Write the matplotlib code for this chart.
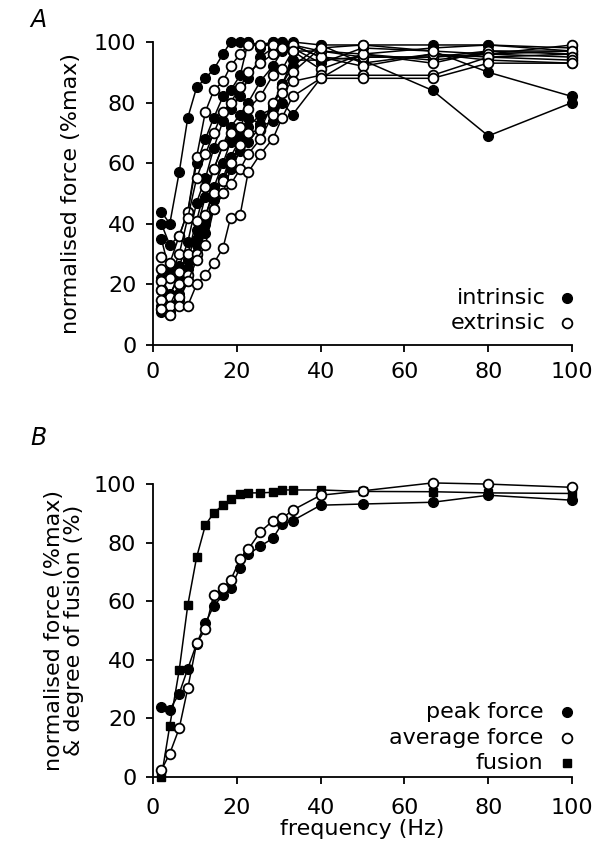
import matplotlib
matplotlib.use("Agg")
import matplotlib.pyplot as plt

# stimulation frequencies (Hz)
freq = [2, 4, 6.25, 8.3, 10.4, 12.5, 14.5, 16.7, 18.5, 20.8,
        22.7, 25.6, 28.6, 30.8, 33.3, 40, 50, 66.7, 80, 100]

# panel A: individual muscles, normalised force (%max)
intrinsic = [
    [44, 40, 57, 75, 85, 88, 91, 96, 100, 100, 100, 98, 100, 99, 100, 99, 99, 99, 99, 98],
    [40, 33, 36, 44, 60, 68, 75, 82, 84, 89, 100, 99, 100, 100, 99, 97, 96, 94, 96, 97],
    [35, 24, 26, 34, 47, 55, 65, 74, 78, 82, 88, 95, 98, 100, 98, 93, 98, 97, 90, 82],
    [22, 17, 22, 28, 38, 49, 58, 66, 72, 76, 80, 87, 92, 97, 99, 95, 94, 84, 69, 80],
    [18, 14, 20, 23, 35, 40, 48, 55, 62, 68, 72, 76, 78, 86, 92, 99, 93, 96, 94, 93],
    [13, 11, 15, 21, 30, 37, 45, 50, 58, 64, 67, 72, 74, 80, 76, 88, 96, 98, 99, 97],
    [11, 10, 17, 25, 33, 42, 52, 60, 67, 70, 75, 73, 79, 86, 94, 94, 95, 95, 97, 96],
]
extrinsic = [
    [29, 27, 36, 44, 62, 77, 84, 87, 92, 96, 99, 99, 99, 98, 97, 97, 95, 95, 96, 99],
    [25, 22, 30, 42, 55, 63, 70, 77, 80, 85, 90, 93, 96, 98, 99, 95, 92, 96, 95, 96],
    [21, 16, 24, 30, 41, 52, 58, 66, 70, 72, 78, 82, 89, 91, 97, 91, 96, 93, 97, 97],
    [18, 13, 20, 23, 30, 43, 50, 54, 60, 66, 70, 71, 80, 85, 90, 98, 99, 97, 96, 95],
    [15, 13, 16, 21, 28, 33, 45, 50, 53, 58, 63, 68, 76, 83, 87, 89, 89, 89, 95, 94],
    [12, 10, 13, 13, 20, 23, 27, 32, 42, 43, 57, 63, 68, 75, 82, 88, 88, 88, 93, 93],
]

# panel B: means
peak = [24, 23, 28.5, 37, 45.5, 52.5, 58.5, 62, 64.5, 71.5,
        76, 78.8, 81.5, 86.5, 87.5, 92.8, 93.2, 93.8, 96.2, 94.5]
average = [2.4, 8, 16.6, 30.3, 45.6, 50.5, 62.3, 64.4, 67.2, 74.3,
           77.7, 83.7, 87.5, 88.3, 91.1, 96.2, 97.7, 100.4, 100, 98.9]
fusion = [0, 17.5, 36.5, 58.7, 75, 86, 90.2, 92.8, 94.8, 96.6,
          97, 97, 97.2, 98, 98, 98, 97.5, 97.4, 97, 96.8]

ticks = [0, 20, 40, 60, 80, 100]

plt.rcParams['font.family'] = ['DejaVu Sans']
fig = plt.figure(figsize=(5.97, 8.49), dpi=100)
axA = fig.add_axes([0.2563, 0.5936, 0.702, 0.357])
axB = fig.add_axes([0.2563, 0.0848, 0.702, 0.345])

ms = 7
lw = 1.1
fs = 16


def style(ax):
    ax.set_xlim(0, 100)
    ax.set_ylim(0, 100)
    ax.set_xticks(ticks)
    ax.set_yticks(ticks)
    for s in ['top', 'right']:
        ax.spines[s].set_visible(False)
    for s in ['left', 'bottom']:
        ax.spines[s].set_linewidth(1.3)
    ax.tick_params(direction='out', length=5, width=1.3, labelsize=fs, pad=7)


for ys in intrinsic:
    axA.plot(freq, ys, '-o', color='black', lw=lw, ms=ms, mfc='black',
             mec='black', clip_on=False, zorder=3)
for ys in extrinsic:
    axA.plot(freq, ys, '-o', color='black', lw=lw, ms=ms, mfc='white',
             mec='black', mew=1.3, clip_on=False, zorder=3)
style(axA)
axA.set_ylabel('normalised force (%max)', fontsize=fs, labelpad=9)

# legend A
axA.text(0.936, 0.155, 'intrinsic', transform=axA.transAxes, ha='right', va='center', fontsize=fs)
axA.text(0.936, 0.073, 'extrinsic', transform=axA.transAxes, ha='right', va='center', fontsize=fs)
axA.plot([0.988], [0.155], 'o', transform=axA.transAxes, ms=ms, color='black', clip_on=False)
axA.plot([0.988], [0.073], 'o', transform=axA.transAxes, ms=ms, mfc='white', mec='black', mew=1.3, clip_on=False)

axB.plot(freq, fusion, '-s', color='black', lw=lw, ms=6.3, clip_on=False, zorder=3)
axB.plot(freq, peak, '-o', color='black', lw=lw, ms=ms, clip_on=False, zorder=3)
axB.plot(freq, average, '-o', color='black', lw=lw, ms=ms, mfc='white', mec='black',
         mew=1.3, clip_on=False, zorder=4)
style(axB)
axB.tick_params(axis='x', pad=10)
axB.set_ylabel('normalised force (%max)\n& degree of fusion (%)', fontsize=fs, labelpad=7,
               linespacing=1.0)
axB.set_xlabel('frequency (Hz)', fontsize=fs, labelpad=1)

# legend B
labels_b = ['peak force', 'average force', 'fusion']
ypos = [0.222, 0.133, 0.048]
for lab, y in zip(labels_b, ypos):
    axB.text(0.931, y, lab, transform=axB.transAxes, ha='right', va='center', fontsize=fs)
axB.plot([0.988], [0.222], 'o', transform=axB.transAxes, ms=ms, color='black', clip_on=False)
axB.plot([0.988], [0.133], 'o', transform=axB.transAxes, ms=ms, mfc='white', mec='black', mew=1.3, clip_on=False)
axB.plot([0.988], [0.048], 's', transform=axB.transAxes, ms=6.3, color='black', clip_on=False)

fig.text(0.064, 0.976, 'A', fontsize=17, style='italic', ha='center', va='center')
fig.text(0.064, 0.484, 'B', fontsize=17, style='italic', ha='center', va='center')

fig.savefig('out.png', dpi=100)
